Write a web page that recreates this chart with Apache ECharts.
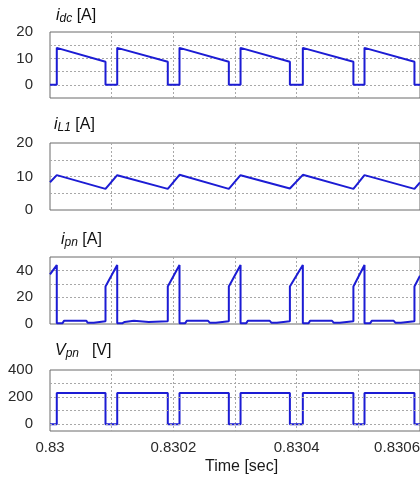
<!DOCTYPE html>
<html>
<head>
<meta charset="utf-8">
<script src="https://cdn.jsdelivr.net/npm/echarts@6/dist/echarts.min.js"></script>
<style>
  html, body { margin: 0; padding: 0; background: #fff; }
  #chart { width: 420px; height: 483px; }
</style>
</head>
<body>
<div id="chart"></div>
<script>
// ---- X axis (time, seconds) ----
const xTickValues = [0.83, 0.8302, 0.8304, 0.8306];
const xTickLabels = ['0.83', '0.8302', '0.8304', '0.8306'];

// ---- i_dc [A] ----
const idcTime = [0.83, 0.830011, 0.830011, 0.830090, 0.830090,
  0.830109, 0.830109, 0.830191, 0.830191,
  0.830210, 0.830210, 0.830290, 0.830290,
  0.830309, 0.830309, 0.830389, 0.830389,
  0.830410, 0.830410, 0.830492, 0.830492,
  0.830510, 0.830510, 0.830591, 0.830591, 0.8306];
const idcValue = [0, 0, 14, 8.7, 0,
  0, 14, 8.7, 0,
  0, 14, 8.7, 0,
  0, 14, 8.7, 0,
  0, 14, 8.7, 0,
  0, 14, 8.7, 0, 0];

// ---- i_L1 [A] ----
const iL1Time = [0.83, 0.830011, 0.830090, 0.830109, 0.830191, 0.830210, 0.830290,
  0.830309, 0.830389, 0.830410, 0.830492, 0.830510, 0.830591, 0.8306];
const iL1Value = [8.3, 10.4, 6.3, 10.4, 6.3, 10.5, 6.3,
  10.4, 6.4, 10.5, 6.3, 10.4, 6.3, 8.2];

// ---- i_pn [A] ----
const ipnTime = [0.83, 0.830011,
  0.830011, 0.830020, 0.830023, 0.830059, 0.830061, 0.830071, 0.830073, 0.830090, 0.830090,
  0.830109,
  0.830109, 0.830117, 0.830121, 0.830136, 0.830139, 0.830160, 0.830163, 0.830191, 0.830191,
  0.830210,
  0.830210, 0.830219, 0.830222, 0.830256, 0.830259, 0.830269, 0.830272, 0.830290, 0.830290,
  0.830309,
  0.830309, 0.830318, 0.830321, 0.830356, 0.830359, 0.830368, 0.830371, 0.830389, 0.830389,
  0.830410,
  0.830410, 0.830419, 0.830422, 0.830457, 0.830460, 0.830470, 0.830473, 0.830492, 0.830492,
  0.830510,
  0.830510, 0.830519, 0.830522, 0.830557, 0.830560, 0.830569, 0.830572, 0.830591, 0.830591,
  0.8306];
const ipnValue = [37, 44,
  0.5, 0.5, 2.5, 2.5, 1, 1, 2, 2, 28,
  44,
  0.5, 0.5, 1.5, 2.5, 1.5, 1.5, 2, 2, 28,
  44,
  0.5, 0.5, 2.5, 2.5, 1, 1, 2, 2, 28,
  44,
  0.5, 0.5, 2.5, 2.5, 1, 1, 2, 2, 28,
  44,
  0.5, 0.5, 2.5, 2.5, 1, 1, 2, 2, 28,
  44,
  0.5, 0.5, 2.5, 2.5, 1, 1, 2, 2, 28,
  36];

// ---- V_pn [V] ----
const vpnTime = [0.83, 0.830011, 0.830011, 0.830090, 0.830090,
  0.830109, 0.830109, 0.830191, 0.830191,
  0.830210, 0.830210, 0.830290, 0.830290,
  0.830309, 0.830309, 0.830389, 0.830389,
  0.830410, 0.830410, 0.830492, 0.830492,
  0.830510, 0.830510, 0.830591, 0.830591, 0.8306];
const vpnValue = [0, 0, 230, 230, 0,
  0, 230, 230, 0,
  0, 230, 230, 0,
  0, 230, 230, 0,
  0, 230, 230, 0,
  0, 230, 230, 0, 0];
const vpnGridValues = [0, 100, 200, 300];

// ---- y tick labels per panel ----
const idcYLabels = [0, 10, 20];
const iL1YLabels = [0, 10, 20];
const ipnYLabels = [0, 20, 40];
const vpnYLabels = [0, 200, 400];

function zip(t, v) { return t.map((x, i) => [x, v[i]]); }

const FONT = 'Liberation Sans, Arial, sans-serif';
const LINE_COLOR = '#1c1cd4';
const GRID_LINE = { show: true, lineStyle: { color: '#a8a8a8', type: [2, 2], width: 1 }, showMinLine: false, showMaxLine: false };

const grids = [
  { left: 50, right: 0, top: 32, height: 66 },
  { left: 50, right: 0, top: 143, height: 67 },
  { left: 50, right: 0, top: 257, height: 67 },
  { left: 50, right: 0, top: 370, height: 61 }
].map(g => Object.assign(g, { show: true, borderColor: '#6a6a6a', borderWidth: 1, backgroundColor: '#fff', outerBoundsMode: 'none', containLabel: false }));

function xAxisFor(i, showLabels) {
  return {
    type: 'value', gridIndex: i, min: 0.83, max: 0.8306, interval: 0.0001,
    axisLine: { show: false }, axisTick: { show: false },
    splitLine: GRID_LINE,
    axisLabel: {
      show: showLabels, margin: 9, fontSize: 15, fontFamily: FONT, color: '#2a2a2a',
      alignMaxLabel: 'right',
      formatter: function (v) {
        for (let k = 0; k < xTickValues.length; k++) {
          if (Math.abs(v - xTickValues[k]) < 1e-8) return xTickLabels[k];
        }
        return '';
      }
    }
  };
}

function yAxisFor(i, min, max, interval, labels, showSplit) {
  return {
    type: 'value', gridIndex: i, min: min, max: max, interval: interval,
    axisLine: { show: false }, axisTick: { show: false },
    splitLine: showSplit ? GRID_LINE : { show: false },
    axisLabel: {
      margin: 17, fontSize: 15, fontFamily: FONT, color: '#2a2a2a',
      formatter: function (v) {
        for (let k = 0; k < labels.length; k++) {
          if (Math.abs(v - labels[k]) < 1e-9) return String(labels[k]);
        }
        return '';
      }
    }
  };
}

function richTitle(text, left, top) {
  return {
    text: text, left: left, top: top, padding: 0,
    textStyle: {
      fontFamily: FONT, fontSize: 16, color: '#111', fontWeight: 'normal',
      rich: {
        it: { fontFamily: FONT, fontSize: 16, fontStyle: 'italic', color: '#111', lineHeight: 19 },
        sub: { fontFamily: FONT, fontSize: 12, fontStyle: 'italic', color: '#111', lineHeight: 12, verticalAlign: 'bottom' },
        subv: { fontFamily: FONT, fontSize: 12, fontStyle: 'italic', color: '#111', lineHeight: 12, verticalAlign: 'bottom', padding: [0, 4, 0, 0] },
        n: { fontFamily: FONT, fontSize: 16, color: '#111', lineHeight: 19 }
      }
    }
  };
}

function lineSeries(i, data) {
  return {
    type: 'line', xAxisIndex: i, yAxisIndex: i, data: data, showSymbol: false,
    lineStyle: { color: LINE_COLOR, width: 2 }, z: 3, animation: false, silent: true
  };
}

const option = {
  backgroundColor: '#fff',
  animation: false,
  title: [
    richTitle('{it|i}{sub|dc}{n| [A]}', 56, 6),
    richTitle('{it|i}{sub|L1}{n| [A]}', 54, 115),
    richTitle('{it|i}{sub|pn}{n| [A]}', 61, 230),
    richTitle('{it|V}{subv|pn}{n|  [V]}', 55, 341),
    { text: 'Time [sec]', left: 205, top: 459, padding: 0,
      textStyle: { fontFamily: FONT, fontSize: 16, color: '#1a1a1a', fontWeight: 'normal' } }
  ],
  grid: grids,
  xAxis: [xAxisFor(0, false), xAxisFor(1, false), xAxisFor(2, false), xAxisFor(3, true)],
  yAxis: [
    yAxisFor(0, -5, 20, 5, idcYLabels, true),
    yAxisFor(1, 0, 20, 5, iL1YLabels, true),
    yAxisFor(2, 0, 50, 10, ipnYLabels, true),
    yAxisFor(3, -50, 400, 50, vpnYLabels, false)
  ],
  series: [
    lineSeries(0, zip(idcTime, idcValue)),
    lineSeries(1, zip(iL1Time, iL1Value)),
    lineSeries(2, zip(ipnTime, ipnValue)),
    lineSeries(3, zip(vpnTime, vpnValue)),
    {
      type: 'line', xAxisIndex: 3, yAxisIndex: 3, data: [], z: 1, silent: true,
      markLine: {
        silent: true, symbol: 'none', animation: false,
        label: { show: false },
        lineStyle: { color: '#a8a8a8', type: [2, 2], width: 1 },
        data: vpnGridValues.map(v => ({ yAxis: v }))
      }
    }
  ]
};

const chart = echarts.init(document.getElementById('chart'), null, { renderer: 'canvas' });
chart.setOption(option);
</script>
</body>
</html>
